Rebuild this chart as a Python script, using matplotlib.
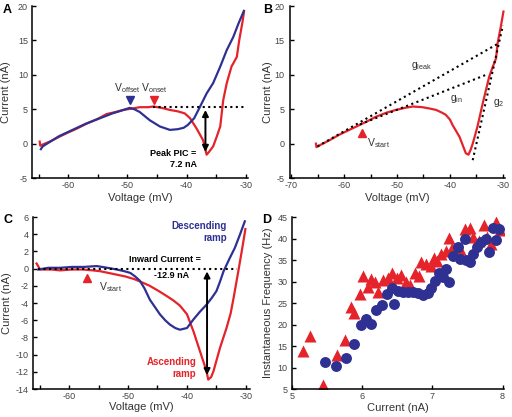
import numpy as np
import matplotlib
matplotlib.use("Agg")
import matplotlib.pyplot as plt
from matplotlib.ticker import MultipleLocator

plt.rcParams["font.family"] = ["Liberation Sans", "DejaVu Sans"]
plt.rcParams["mathtext.fontset"] = "custom"
plt.rcParams["mathtext.rm"] = "Liberation Sans"
plt.rcParams["mathtext.it"] = "Liberation Sans"
plt.rcParams["axes.unicode_minus"] = False

RED = "#e4232a"
BLUE = "#2e3192"

# ---- panel A: ascending (red) and descending (blue) ramps
a_red_v = [-64.8, -64.7, -64.5, -63.1, -61.5, -60.3, -58.5, -56.9, -55.0, -53.5, -52.0, -50.7,
           -49.2, -47.9, -46.5, -45.6, -44.2, -42.8, -41.5, -40.3, -39.4, -38.3, -37.2, -36.6,
           -36.2, -35.5, -34.9, -34.3, -33.8, -33.2, -32.4, -31.5, -31.1, -30.5, -30.3]
a_red_i = [0.3, -0.3, -0.2, 0.3, 1.0, 1.5, 2.2, 2.9, 3.6, 4.3, 4.6, 4.9,
           5.1, 5.3, 5.3, 5.4, 5.2, 4.9, 4.7, 4.4, 3.7, 2.2, 0.5, -1.6,
           -1.2, -0.4, 1.0, 2.5, 6.3, 8.8, 11.2, 12.6, 15.0, 17.9, 19.1]
a_blue_v = [-64.6, -64.3, -63.0, -61.5, -60.0, -58.5, -57.0, -55.5, -54.0, -52.5, -51.0, -49.6,
            -48.8, -47.9, -46.2, -44.5, -42.8, -41.5, -40.5, -39.8, -38.7, -37.7, -36.6, -35.5,
            -34.3, -33.2, -32.1, -31.2, -30.5, -30.3]
a_blue_i = [-0.8, -0.4, 0.3, 1.1, 1.7, 2.3, 2.9, 3.4, 3.9, 4.4, 4.8, 5.2,
            5.0, 4.6, 3.4, 2.5, 2.0, 2.1, 2.3, 2.7, 3.7, 5.4, 7.3, 8.8,
            11.2, 13.6, 15.5, 17.5, 18.9, 19.3]

# ---- panel B: ascending ramp with conductance fits
b_red_v = [-65.3, -65.2, -64.5, -62.5, -60.9, -59.0, -57.1, -55.5, -54.0, -52.0, -50.2, -48.5,
           -47.0, -45.2, -43.8, -42.6, -41.5, -40.8, -40.0, -39.5, -38.2, -37.0, -36.5, -36.1,
           -35.7, -34.8, -33.8, -32.6, -31.9, -31.3, -31.0, -30.4, -29.9]
b_red_i = [0.0, -0.5, -0.2, 0.6, 1.3, 2.0, 2.7, 3.3, 3.9, 4.5, 4.9, 5.2,
           5.4, 5.3, 5.1, 4.9, 4.5, 4.2, 3.5, 2.7, 1.0, -1.4, -1.6, -0.9,
           0.0, 2.5, 5.9, 9.7, 11.2, 12.4, 14.6, 17.0, 19.2]
gleak_v = [-65.0, -31.0]
gleak_i = [-0.4, 14.5]
gin_v = [-57.0, -33.2]
gin_i = [2.8, 10.0]
g2_v = [-35.7, -30.0]
g2_i = [-2.4, 17.2]

# ---- panel C: leak-subtracted currents
c_red_v = [-65.5, -64.9, -63.0, -61.5, -59.5, -57.6, -56.0, -54.7, -53.3, -51.9, -50.5, -49.0,
           -47.6, -46.3, -44.8, -43.4, -42.3, -41.2, -40.0, -38.9, -37.8, -36.7, -36.4, -35.9,
           -35.5, -34.4, -33.3, -32.6, -32.1, -31.3, -30.7, -30.1]
c_red_i = [0.6, -0.1, -0.1, -0.2, -0.1, -0.1, -0.2, -0.3, -0.5, -0.7, -0.9, -1.2,
           -1.6, -2.0, -2.6, -3.2, -3.7, -4.3, -5.3, -7.3, -9.6, -11.9, -12.9, -12.6,
           -11.9, -9.2, -6.9, -5.2, -3.4, -0.3, 2.1, 4.6]
c_blue_v = [-65.2, -63.5, -61.5, -59.5, -57.5, -55.3, -53.5, -51.9, -50.6, -49.6, -48.8, -48.0,
            -47.2, -46.3, -45.4, -44.6, -43.7, -42.9, -42.0, -41.2, -40.0, -38.9, -37.8, -36.7,
            -35.8, -35.0, -34.4, -33.8, -32.7, -31.9, -31.0, -30.2]
c_blue_i = [-0.1, 0.1, 0.1, 0.2, 0.2, 0.3, 0.1, -0.1, -0.3, -0.5, -0.9, -1.4,
            -2.3, -3.6, -4.5, -5.3, -6.0, -6.5, -6.9, -7.1, -6.9, -5.9, -5.0, -4.2,
            -3.4, -2.6, -1.5, -0.3, 1.3, 2.4, 4.0, 5.5]

# ---- panel D: frequency-current relation
d_tri_x = [5.15, 5.26, 5.44, 5.64, 5.75, 5.84, 5.89, 5.97, 6.01, 6.09, 6.13, 6.18, 6.23, 6.30,
           6.37, 6.42, 6.49, 6.56, 6.63, 6.68, 6.75, 6.81, 6.84, 6.91, 6.98, 7.02, 7.07, 7.12,
           7.19, 7.23, 7.28, 7.40, 7.47, 7.53, 7.58, 7.67, 7.74, 7.78, 7.83, 7.90, 7.97]
d_tri_y = [13.8, 17.3, 6.0, 12.9, 16.5, 24.0, 22.7, 27.2, 31.3, 28.8, 30.5, 29.8, 27.5, 30.3,
           30.8, 31.9, 30.8, 31.6, 30.0, 29.3, 32.1, 31.3, 34.6, 34.0, 33.7, 35.5, 34.8, 36.4,
           37.2, 40.1, 37.9, 37.5, 42.2, 42.5, 40.3, 39.5, 43.1, 40.3, 38.7, 43.8, 42.0]
d_cir_x = [5.47, 5.63, 5.77, 5.88, 5.98, 6.06, 6.13, 6.20, 6.28, 6.36, 6.42, 6.46, 6.51, 6.58,
           6.65, 6.72, 6.79, 6.87, 6.94, 6.98, 7.04, 7.10, 7.15, 7.19, 7.24, 7.29, 7.36, 7.40,
           7.46, 7.48, 7.53, 7.58, 7.63, 7.69, 7.76, 7.81, 7.86, 7.90, 7.95]
d_cir_y = [11.3, 10.4, 12.3, 15.5, 19.9, 21.4, 20.2, 23.3, 24.5, 27.0, 28.4, 24.8, 27.9, 27.6,
           27.6, 27.6, 27.4, 26.9, 27.4, 28.6, 30.2, 32.1, 31.1, 32.9, 30.0, 36.0, 38.0, 35.3,
           39.9, 34.9, 34.5, 36.4, 38.0, 39.2, 39.8, 36.9, 42.5, 39.7, 42.3]

fig = plt.figure(figsize=(5.12, 4.17), dpi=100)

axA = fig.add_axes([0.0625, 0.573, 0.422, 0.4125])
axB = fig.add_axes([0.5664, 0.573, 0.42, 0.4125])
axC = fig.add_axes([0.0645, 0.067, 0.424, 0.4125])
axD = fig.add_axes([0.5703, 0.067, 0.414, 0.4125])


def style(ax, xlabel, ylabel, xl_y, yl_x):
    for s in ["top", "right"]:
        ax.spines[s].set_visible(False)
    for s in ["left", "bottom"]:
        ax.spines[s].set_linewidth(1.1)
    ax.tick_params(direction="in", length=3, width=1, labelsize=6.5,
                   labelcolor="#444444", pad=2)
    ax.tick_params(axis="y", pad=3)
    ax.tick_params(which="minor", direction="in", length=3, width=1)
    ax.set_xlabel(xlabel, fontsize=8, color="#333333")
    ax.set_ylabel(ylabel, fontsize=8, color="#333333")
    ax.xaxis.set_label_coords(0.5, xl_y)
    ax.yaxis.set_label_coords(yl_x, 0.5)


lw = 1.6

# A
axA.plot(a_red_v, a_red_i, color=RED, lw=lw)
axA.plot(a_blue_v, a_blue_i, color=BLUE, lw=lw)
i_max = max(a_red_i[:20])
axA.plot([a_red_v[a_red_i.index(i_max)], -30.1], [i_max - 0.1, i_max - 0.1], "k:", lw=1.5)
axA.annotate("", xy=(-36.8, min(a_red_i)), xytext=(-36.8, i_max - 0.1),
             arrowprops=dict(arrowstyle="<|-|>", color="k", lw=1.4, mutation_scale=9))
axA.plot([-49.6], [6.4], marker="v", color=BLUE, ms=6, ls="none")
axA.plot([-45.5], [6.4], marker="v", color=RED, ms=6, ls="none")
axA.text(-50.0, 7.6, r"V$_{\rm offset}$", fontsize=7.5, ha="center", va="baseline", color="#333333")
axA.text(-45.5, 7.6, r"V$_{\rm onset}$", fontsize=7.5, ha="center", va="baseline", color="#333333")
axA.text(-38.4, -1.4, "Peak PIC =", fontsize=6.5, fontweight="bold", ha="right", va="center")
axA.text(-38.2, -3.0, "7.2 nA", fontsize=6.5, fontweight="bold", ha="right", va="center")
axA.set_xlim(-66.1, -29.6)
axA.set_ylim(-5, 20)
axA.xaxis.set_major_locator(MultipleLocator(10))
axA.xaxis.set_minor_locator(MultipleLocator(5))
axA.yaxis.set_major_locator(MultipleLocator(5))
style(axA, "Voltage (mV)", "Current (nA)", -0.085, -0.097)

# B
axB.plot(b_red_v, b_red_i, color=RED, lw=lw)
axB.plot(gleak_v, gleak_i, "k:", lw=1.5)
axB.plot(gin_v, gin_i, "k:", lw=1.5)
axB.plot(g2_v, g2_i, "k:", lw=1.5)
axB.plot([-56.6], [1.6], marker="^", color=RED, ms=6, ls="none")
axB.text(-53.4, -0.4, r"V$_{\rm start}$", fontsize=7.5, ha="center", va="baseline", color="#333333")
axB.text(-45.3, 11.0, r"g$_{\rm leak}$", fontsize=7.5, ha="center", va="baseline", color="#333333")
axB.text(-38.7, 6.2, r"g$_{\rm in}$", fontsize=7.5, ha="center", va="baseline", color="#333333")
axB.text(-30.8, 5.6, r"g$_{\rm 2}$", fontsize=7.5, ha="center", va="baseline", color="#333333")
axB.set_xlim(-70.2, -29.6)
axB.set_ylim(-5, 20)
axB.xaxis.set_major_locator(MultipleLocator(10))
axB.xaxis.set_minor_locator(MultipleLocator(5))
axB.yaxis.set_major_locator(MultipleLocator(5))
style(axB, "Voltage (mV)", "Current (nA)", -0.085, -0.079)
axB.tick_params(axis="y", pad=4)

# C
axC.plot(c_red_v, c_red_i, color=RED, lw=lw)
axC.plot(c_blue_v, c_blue_i, color=BLUE, lw=lw)
axC.plot([-65.2, -31.6], [0, 0], "k:", lw=1.5)
axC.annotate("", xy=(-36.6, min(c_red_i) + 0.2), xytext=(-36.6, 0),
             arrowprops=dict(arrowstyle="<|-|>", color="k", lw=1.4, mutation_scale=9))
axC.plot([-56.9], [-1.1], marker="^", color=RED, ms=6, ls="none")
axC.text(-53.0, -2.5, r"V$_{\rm start}$", fontsize=7.5, ha="center", va="baseline", color="#333333")
axC.text(-43.7, 1.1, "Inward Current =", fontsize=6.5, fontweight="bold", ha="center", va="center")
axC.text(-42.6, -0.85, "-12.9 nA", fontsize=6.5, fontweight="bold", ha="center", va="center")
axC.text(-33.3, 5.0, "Descending", fontsize=7, fontweight="bold", color=BLUE, ha="right", va="center")
axC.text(-33.3, 3.6, "ramp", fontsize=7, fontweight="bold", color=BLUE, ha="right", va="center")
axC.text(-38.4, -10.8, "Ascending", fontsize=7, fontweight="bold", color=RED, ha="right", va="center")
axC.text(-38.4, -12.2, "ramp", fontsize=7, fontweight="bold", color=RED, ha="right", va="center")
axC.set_xlim(-66.1, -29.3)
axC.set_ylim(-14, 6)
axC.xaxis.set_major_locator(MultipleLocator(10))
axC.xaxis.set_minor_locator(MultipleLocator(5))
axC.yaxis.set_major_locator(MultipleLocator(2))
style(axC, "Voltage (mV)", "Current (nA)", -0.078, -0.097)

# D
axD.scatter(d_tri_x, d_tri_y, marker="^", s=75, color=RED, linewidths=0, zorder=2)
axD.scatter(d_cir_x, d_cir_y, marker="o", s=62, color=BLUE, linewidths=0, zorder=3)
axD.set_xlim(5, 8.02)
axD.set_ylim(5, 45)
axD.xaxis.set_major_locator(MultipleLocator(1))
axD.yaxis.set_major_locator(MultipleLocator(5))
style(axD, "Current (nA)", "Instantaneous Frequency (Hz)", -0.08, -0.09)

for x, y, s in [(3, 4, "A"), (263, 4, "B"), (3, 214, "C"), (262, 214, "D")]:
    fig.text(x / 512, 1 - y / 417, s, fontsize=9, fontweight="bold", ha="left", va="top")

fig.savefig("out.png", dpi=100)
